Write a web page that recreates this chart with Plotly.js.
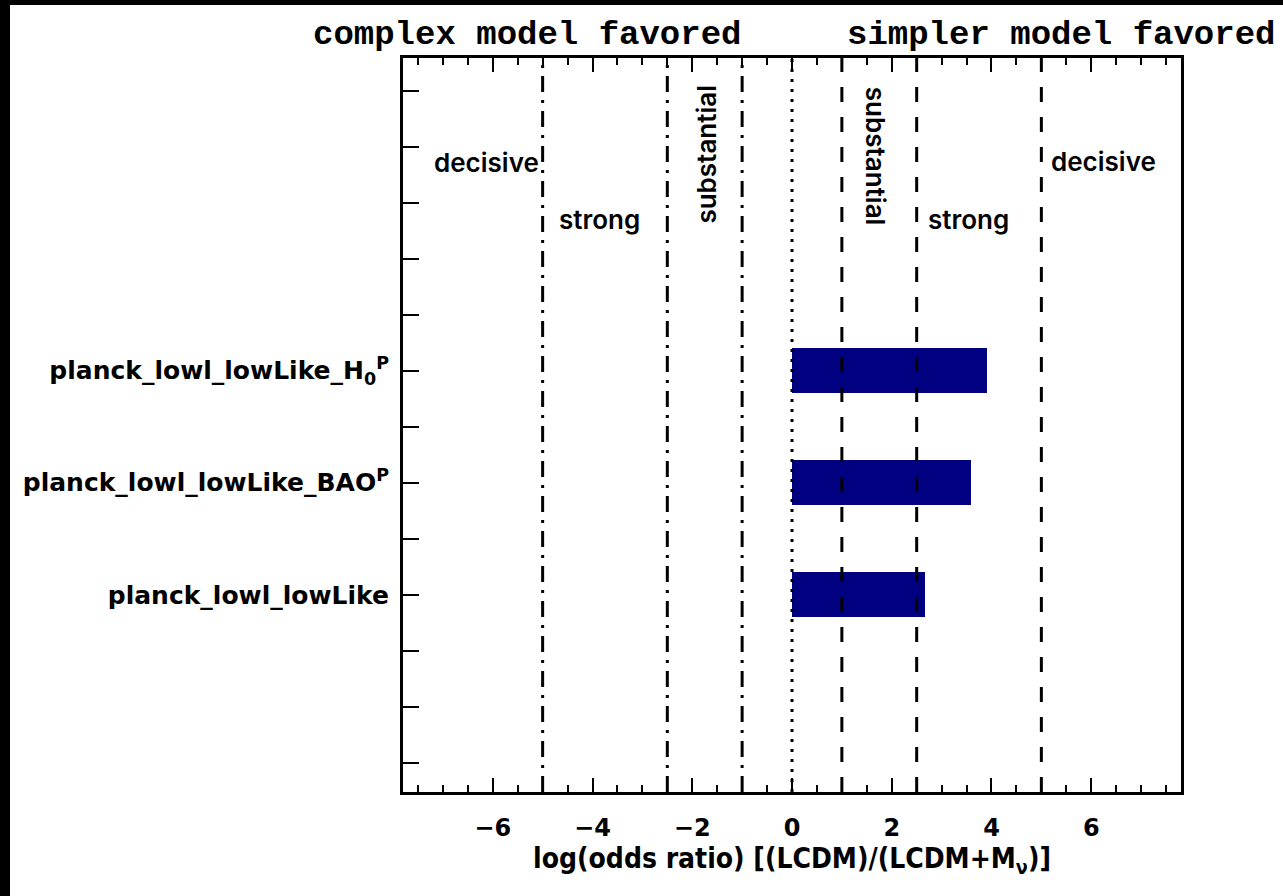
<!DOCTYPE html>
<html>
<head>
<meta charset="utf-8">
<script src="https://cdn.plot.ly/plotly-3.0.1.min.js"></script>
<style>
  html, body { margin: 0; padding: 0; background: #000; width: 1283px; height: 896px; overflow: hidden; }
  #chart { position: absolute; left: 10px; top: 5px; width: 1273px; height: 891px; background: #fff; }
</style>
</head>
<body>
<div id="chart"></div>
<script>
// ---- data ----
const datasets = ['planck_lowl_lowLike', 'planck_lowl_lowLike_BAO<sup>P</sup>', 'planck_lowl_lowLike_H<sub>0</sub><sup>P</sup>'];
const datasetPos = [1, 2, 3];
const logOddsRatio = [2.66, 3.58, 3.90];

// Jeffreys-scale thresholds
const complexThresholds = [-5, -2.5, -1];
const zeroLine = [0];
const simplerThresholds = [1, 2.5, 5];

const regionLabels = ['decisive', 'strong', 'substantial', 'substantial', 'strong', 'decisive'];
const xTickVals = [-6, -4, -2, 0, 2, 4, 6];

// ---- build ----
const bar = {
  type: 'bar',
  orientation: 'h',
  x: logOddsRatio,
  y: datasetPos,
  width: 0.4,
  marker: { color: '#000080', line: { width: 0 } },
  hoverinfo: 'skip',
  showlegend: false
};

function vline(x, dash) {
  return {
    type: 'line', xref: 'x', yref: 'paper', x0: x, x1: x, y0: 0, y1: 1,
    line: { color: '#000', width: 3, dash: dash }, layer: 'above'
  };
}
const shapes = [];
complexThresholds.forEach(v => shapes.push(vline(v, '16px,8px,3px,8px')));
zeroLine.forEach(v => shapes.push(vline(v, '3px,7px')));
simplerThresholds.forEach(v => shapes.push(vline(v, '15px,15px')));

const labelFont = { family: 'Inter, "Noto Sans", sans-serif', size: 26, color: '#000', weight: 600 };
const labelPlacement = [
  { x: -6.12, y: 4.86, angle: 0 },
  { x: -3.86, y: 4.35, angle: 0 },
  { x: -1.72, y: 4.93, angle: -90 },
  { x: 1.68, y: 4.91, angle: 90 },
  { x: 3.54, y: 4.35, angle: 0 },
  { x: 6.24, y: 4.87, angle: 0 }
];
const annotations = regionLabels.map((t, i) => ({
  text: t, x: labelPlacement[i].x, y: labelPlacement[i].y, xref: 'x', yref: 'y',
  showarrow: false, textangle: labelPlacement[i].angle, font: labelFont,
  xanchor: 'center', yanchor: 'middle'
}));
const headFont = { family: '"Liberation Mono", "Courier New", monospace', size: 34, color: '#000', weight: 'bold' };
annotations.push({ text: 'complex model favored', x: -5.32, y: 1, xref: 'x', yref: 'paper',
  yanchor: 'bottom', yshift: 2, showarrow: false, font: headFont });
annotations.push({ text: 'simpler model favored', x: 5.40, y: 1, xref: 'x', yref: 'paper',
  yanchor: 'bottom', yshift: 2, showarrow: false, font: headFont });

const layout = {
  width: 1273, height: 891,
  margin: { l: 393, r: 102, t: 53, b: 104, pad: 0 },
  paper_bgcolor: '#fff', plot_bgcolor: '#fff',
  showlegend: false,
  xaxis: {
    range: [-7.8, 7.8],
    tickmode: 'array', tickvals: xTickVals,
    ticks: 'inside', ticklen: 14, tickwidth: 2, tickcolor: '#000',
    minor: { dtick: 0.5, tick0: 0, ticks: 'inside', ticklen: 7, tickwidth: 2, tickcolor: '#000', showgrid: false },
    showline: true, linewidth: 3, linecolor: '#000', mirror: 'ticks',
    showgrid: false, zeroline: false,
    ticklabelstandoff: 12,
    tickfont: { family: '"DejaVu Sans", sans-serif', size: 24, color: '#000', weight: 'bold' },
    title: { text: 'log(odds ratio) [(LCDM)/(LCDM+M<sub>ν</sub>)]', standoff: 2,
      font: { family: '"DejaVu Sans Condensed", "DejaVu Sans", sans-serif', size: 28, color: '#000', weight: 'bold' } }
  },
  yaxis: {
    range: [-0.76, 5.79],
    tickmode: 'array', tickvals: datasetPos, ticktext: datasets,
    ticks: 'inside', ticklen: 16, tickwidth: 2, tickcolor: '#000',
    minor: { dtick: 0.5, tick0: 0, ticks: 'inside', ticklen: 16, tickwidth: 2, tickcolor: '#000', showgrid: false },
    showline: true, linewidth: 3, linecolor: '#000', mirror: true,
    showgrid: false, zeroline: false,
    ticklabelstandoff: 6,
    tickfont: { family: '"DejaVu Sans", sans-serif', size: 25, color: '#000', weight: 'bold' }
  },
  shapes: shapes,
  annotations: annotations,
  bargap: 0
};

Plotly.newPlot('chart', [bar], layout, { displayModeBar: false, staticPlot: true });
</script>
</body>
</html>
